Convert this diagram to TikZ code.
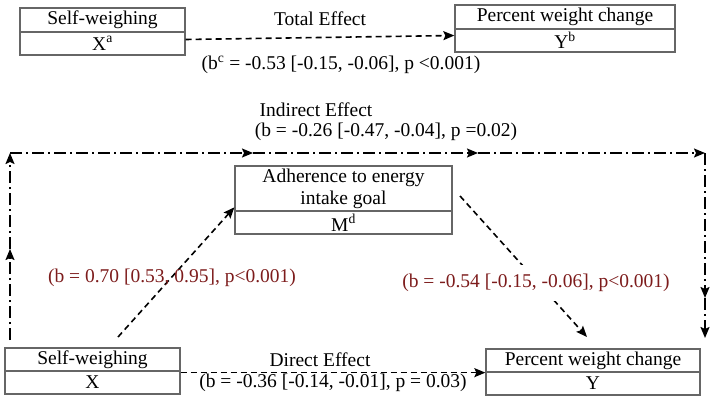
\documentclass[tikz,border=0pt]{standalone}
\usepackage{fontspec}
\setmainfont{Liberation Serif}
\usetikzlibrary{arrows.meta,positioning}
\definecolor{coefred}{RGB}{125,28,28}
\begin{document}
\begin{tikzpicture}[x=1pt,y=-1pt,>={Stealth[length=11pt,width=9pt,inset=2pt]},font=\fontsize{19.5}{22}\selectfont]
\tikzstyle{c}=[draw=black!60,line width=1.3pt,inner sep=0pt,align=center]
\tikzstyle{dsh}=[line width=1.6pt,dash pattern=on 6pt off 4pt]
\tikzstyle{dd}=[line width=1.6pt,dash pattern=on 12pt off 4pt on 2pt off 4pt]
\tikzstyle{coef}=[text=coefred]
\useasboundingbox (0,0) rectangle (714,401);
% total effect
\node[c,minimum width=165pt,minimum height=24pt] (xa) at (102.5,20) {Self-weighing};
\node[c,minimum width=165pt,minimum height=23pt] (xa2) at (102.5,43.5) {X\textsuperscript{a}};
\node[c,minimum width=220pt,minimum height=24pt] (yb) at (565,17) {Percent weight change};
\node[c,minimum width=220pt,minimum height=23pt] (yb2) at (565,40.5) {Y\textsuperscript{b}};
\node (te) at (320,19) {Total Effect};
\node (tec) at (341,65) {(b\textsuperscript{c} = -0.53 [-0.15, -0.06], p <0.001)};
\draw[dsh,->] ([yshift=4pt]xa2.east) -- ([yshift=5pt]yb2.west);
% mediation model
\node[c,minimum width=217pt,minimum height=45pt] (m) at (343.5,188.5) {Adherence to energy\\intake goal};
\node[c,minimum width=217pt,minimum height=23pt] (m2) at (343.5,222.5) {M\textsuperscript{d}};
\node[c,minimum width=175pt,minimum height=23pt] (x) at (92.5,359.5) {Self-weighing};
\node[c,minimum width=175pt,minimum height=23pt] (x2) at (92.5,382.5) {X};
\node[c,minimum width=214pt,minimum height=23pt] (y) at (593,360.5) {Percent weight change};
\node[c,minimum width=214pt,minimum height=23pt] (y2) at (593,383.5) {Y};
% indirect path
\coordinate (l0) at (10,340); \coordinate (l1) at (10,249); \coordinate (c1) at (10,153);
\coordinate (t1) at (253,153); \coordinate (t2) at (478,153); \coordinate (c2) at (705,153);
\coordinate (r1) at (705,298); \coordinate (r2) at (705,338);
\draw[dd,->] (l0) -- (l1); \draw[dd,->] (l1) -- (c1);
\draw[dd,->] (c1) -- (t1); \draw[dd,->] (t1) -- (t2); \draw[dd,->] (t2) -- (c2);
\draw[dd,->] (c2) -- (r1); \draw[dd,->] (r1) -- (r2);
\node (ie) at (316,110) {Indirect Effect};
\node (iec) at (386,132) {(b = -0.26 [-0.47, -0.04], p =0.02)};
% a and b paths
\coordinate (as) at (118,337); \coordinate (bs) at (460,196); \coordinate (be) at (587,337);
\draw[dsh,->] (as) -- ([yshift=3pt]m2.north west);
\node[coef] (ac) at (172,278) {(b = 0.70 [0.53, 0.95], p<0.001)};
\draw[dsh,->] (bs) -- (be);
\node[coef,fill=white,inner xsep=2pt,inner ysep=9pt] (bc) at (536,283) {(b = -0.54 [-0.15, -0.06], p<0.001)};
% direct effect
\draw[dsh,->] ([yshift=-1pt]x.south east) -- (y.south west);
\node (de) at (320,360) {Direct Effect};
\node (dec) at (333,383) {(b = -0.36 [-0.14, -0.01], p = 0.03)};
\end{tikzpicture}
\end{document}
